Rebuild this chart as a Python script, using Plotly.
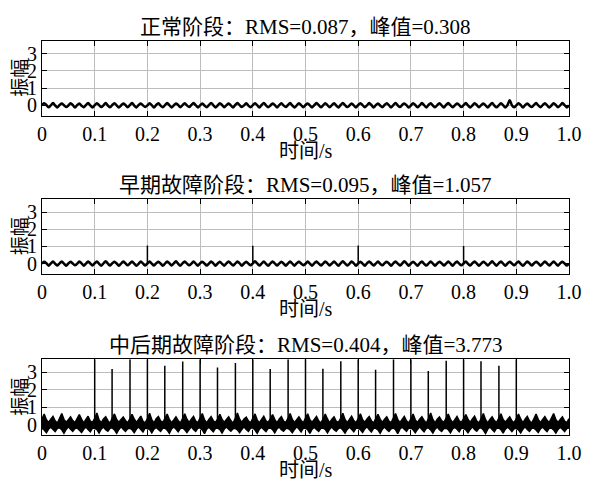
import numpy as np
import plotly.graph_objects as go

# samples per second of the waveform arrays below (t = k / sample_rate)
sample_rate = 240

# 正常阶段
normal_signal = [
    0.01, 0.12, 0.02, -0.11, 0.00, 0.13, -0.01, -0.12, 0.02, 0.11, 0.01, -0.10, -0.01, 0.12, 0.02, -0.12,
    0.01, 0.11, -0.02, -0.11, 0.02, 0.13, 0.00, -0.12, 0.01, 0.12, 0.01, -0.10, 0.00, 0.13, -0.01, -0.11,
    0.02, 0.12, 0.00, -0.12, -0.01, 0.11, 0.02, -0.11, 0.01, 0.14, -0.01, -0.12, 0.02, 0.11, 0.00, -0.10,
    0.00, 0.12, 0.01, -0.12, 0.02, 0.12, -0.02, -0.11, 0.01, 0.13, 0.01, -0.12, -0.01, 0.11, 0.02, -0.11,
    0.01, 0.12, 0.00, -0.10, 0.02, 0.13, 0.01, -0.12, 0.00, 0.11, -0.01, -0.11, 0.02, 0.14, 0.01, -0.12,
    -0.01, 0.12, 0.02, -0.11, 0.01, 0.11, 0.00, -0.12, 0.02, 0.13, 0.01, -0.10, 0.00, 0.12, -0.02, -0.11,
    0.01, 0.12, 0.01, -0.12, 0.02, 0.14, 0.00, -0.11, -0.01, 0.11, 0.02, -0.12, 0.01, 0.12, 0.00, -0.10,
    0.02, 0.13, -0.01, -0.12, 0.00, 0.12, 0.01, -0.11, 0.02, 0.11, 0.00, -0.12, 0.01, 0.13, 0.02, -0.11,
    0.00, 0.12, 0.01, -0.11, 0.01, 0.12, -0.01, -0.12, 0.02, 0.14, 0.01, -0.10, -0.01, 0.11, 0.00, -0.12,
    0.02, 0.12, 0.01, -0.11, 0.00, 0.13, 0.02, -0.12, 0.01, 0.11, -0.01, -0.11, 0.02, 0.12, 0.01, -0.12,
    0.01, 0.14, 0.00, -0.10, 0.02, 0.11, 0.01, -0.12, -0.01, 0.12, 0.02, -0.11, 0.00, 0.13, 0.01, -0.12,
    0.02, 0.12, -0.01, -0.11, 0.01, 0.12, 0.00, -0.12, 0.02, 0.13, 0.01, -0.11, 0.00, 0.11, 0.02, -0.10,
    0.01, 0.13, 0.00, -0.12, -0.01, 0.12, 0.02, -0.11, 0.01, 0.11, 0.00, -0.12, 0.02, 0.14, -0.01, -0.11,
    0.00, 0.12, 0.01, -0.12, 0.02, 0.29, 0.01, -0.11, 0.00, 0.12, 0.02, -0.12, 0.01, 0.11, -0.01, -0.10,
    0.02, 0.13, 0.00, -0.11, 0.01, 0.12, 0.01, -0.12, -0.01, 0.12, 0.02, -0.11, 0.00, 0.13, 0.01, -0.12,
    0.01,
]

# 早期故障阶段
early_signal = [
    0.00, 0.11, 0.02, -0.12, 0.01, 0.12, -0.01, -0.11, 0.02, 0.13, 0.00, -0.12, 0.01, 0.11, 0.01, -0.10,
    -0.01, 0.12, 0.02, -0.12, 0.00, 0.13, 0.01, -0.11, 0.02, 0.12, -0.01, -0.12, 0.01, 0.14, 0.00, -0.11,
    0.02, 0.11, 0.01, -0.12, 0.00, 0.12, 0.02, -0.10, 0.01, 0.13, 0.00, -0.12, -0.01, 0.12, 0.01, -0.11,
    0.01, 0.13, 0.00, -0.11, 0.02, 0.11, 0.01, -0.12, 0.00, 0.12, 0.02, -0.11, 0.01, 0.14, -0.01, -0.12,
    0.02, 0.12, 0.01, -0.10, -0.01, 0.12, 0.00, -0.12, 0.02, 0.11, 0.01, -0.11, 0.00, 0.13, 0.02, -0.12,
    0.01, 0.11, -0.01, -0.12, 0.02, 0.13, 0.01, -0.11, 0.00, 0.12, 0.02, -0.12, 0.01, 0.11, 0.00, -0.10,
    0.02, 0.14, 0.01, -0.11, 0.00, 0.12, -0.01, -0.12, 0.01, 0.13, 0.02, -0.11, 0.00, 0.11, 0.01, -0.12,
    0.01, 0.12, 0.00, -0.12, 0.02, 0.11, 0.01, -0.10, -0.01, 0.13, 0.00, -0.12, 0.02, 0.12, 0.01, -0.11,
    0.00, 0.13, 0.02, -0.11, 0.01, 0.12, 0.00, -0.12, 0.02, 0.14, 0.01, -0.11, -0.01, 0.12, 0.02, -0.12,
    0.01, 0.11, 0.00, -0.12, 0.02, 0.13, 0.01, -0.11, 0.00, 0.12, -0.01, -0.10, 0.02, 0.11, 0.01, -0.12,
    0.02, 0.12, 0.01, -0.11, 0.00, 0.14, 0.02, -0.12, 0.01, 0.11, 0.00, -0.12, 0.02, 0.13, -0.01, -0.11,
    0.00, 0.12, 0.01, -0.12, 0.01, 0.11, 0.02, -0.11, 0.00, 0.13, 0.01, -0.12, 0.02, 0.12, 0.00, -0.10,
    0.01, 0.13, -0.01, -0.11, 0.02, 0.12, 0.01, -0.12, 0.00, 0.11, 0.02, -0.11, 0.01, 0.14, 0.00, -0.12,
    0.02, 0.12, 0.00, -0.12, 0.01, 0.11, 0.01, -0.10, 0.02, 0.13, -0.01, -0.12, 0.00, 0.12, 0.02, -0.11,
    0.01, 0.11, 0.02, -0.12, 0.00, 0.13, 0.01, -0.11, 0.01, 0.12, 0.00, -0.12, 0.02, 0.11, 0.01, -0.11,
    0.00,
]
early_spike_t = [0.2, 0.4, 0.6, 0.8]
early_spike_h = [1.05, 1.04, 1.057, 1.03]

# 中后期故障阶段: upper / lower edge of the dense vibration band
late_upper = [
    0.33, 0.60, 0.28, 0.12, 0.31, 0.47, 0.21, 0.09, 0.36, 0.64, 0.30, 0.13, 0.28, 0.44, 0.23, 0.11,
    0.34, 0.58, 0.31, 0.10, 0.30, 0.48, 0.20, 0.12, 0.35, 0.66, 0.27, 0.11, 0.32, 0.45, 0.22, 0.08,
    0.37, 0.61, 0.29, 0.14, 0.29, 0.43, 0.24, 0.10, 0.33, 0.59, 0.32, 0.12, 0.30, 0.49, 0.19, 0.10,
    0.35, 0.65, 0.28, 0.09, 0.33, 0.46, 0.21, 0.13, 0.36, 0.60, 0.29, 0.11, 0.27, 0.44, 0.24, 0.09,
    0.34, 0.62, 0.31, 0.12, 0.31, 0.47, 0.20, 0.11, 0.38, 0.63, 0.28, 0.10, 0.30, 0.46, 0.22, 0.12,
    0.33, 0.59, 0.30, 0.13, 0.29, 0.45, 0.23, 0.08, 0.35, 0.67, 0.31, 0.12, 0.32, 0.43, 0.21, 0.10,
    0.36, 0.61, 0.27, 0.11, 0.30, 0.48, 0.22, 0.12, 0.34, 0.58, 0.30, 0.09, 0.31, 0.46, 0.20, 0.11,
    0.35, 0.64, 0.29, 0.12, 0.28, 0.44, 0.24, 0.10, 0.37, 0.62, 0.28, 0.13, 0.30, 0.47, 0.21, 0.09,
    0.33, 0.60, 0.32, 0.10, 0.31, 0.45, 0.19, 0.12, 0.36, 0.65, 0.29, 0.11, 0.29, 0.48, 0.23, 0.10,
    0.34, 0.62, 0.28, 0.13, 0.32, 0.46, 0.22, 0.09, 0.35, 0.59, 0.31, 0.12, 0.30, 0.44, 0.20, 0.11,
    0.37, 0.63, 0.30, 0.11, 0.29, 0.47, 0.21, 0.10, 0.33, 0.61, 0.27, 0.12, 0.31, 0.45, 0.24, 0.09,
    0.35, 0.66, 0.29, 0.10, 0.30, 0.43, 0.22, 0.13, 0.36, 0.60, 0.30, 0.11, 0.28, 0.46, 0.21, 0.12,
    0.34, 0.58, 0.31, 0.12, 0.32, 0.48, 0.20, 0.10, 0.35, 0.64, 0.28, 0.09, 0.30, 0.45, 0.23, 0.11,
    0.36, 0.62, 0.29, 0.13, 0.29, 0.44, 0.21, 0.11, 0.34, 0.61, 0.32, 0.10, 0.31, 0.47, 0.22, 0.08,
    0.33, 0.60, 0.30, 0.11, 0.30, 0.46, 0.24, 0.12, 0.37, 0.63, 0.29, 0.12, 0.29, 0.44, 0.20, 0.10,
    0.34,
]
late_lower = [
    -0.21, -0.31, -0.47, -0.26, -0.15, -0.29, -0.41, -0.22, -0.19, -0.30, -0.50, -0.28, -0.13, -0.27, -0.39, -0.23,
    -0.20, -0.32, -0.46, -0.27, -0.14, -0.28, -0.42, -0.21, -0.22, -0.29, -0.49, -0.25, -0.15, -0.30, -0.38, -0.22,
    -0.19, -0.31, -0.51, -0.28, -0.13, -0.27, -0.40, -0.24, -0.21, -0.30, -0.47, -0.26, -0.14, -0.29, -0.43, -0.20,
    -0.22, -0.28, -0.48, -0.27, -0.16, -0.28, -0.39, -0.22, -0.20, -0.32, -0.50, -0.25, -0.14, -0.26, -0.41, -0.23,
    -0.20, -0.30, -0.46, -0.29, -0.13, -0.29, -0.40, -0.21, -0.19, -0.31, -0.52, -0.27, -0.15, -0.28, -0.42, -0.22,
    -0.21, -0.29, -0.49, -0.26, -0.14, -0.27, -0.38, -0.24, -0.22, -0.30, -0.47, -0.28, -0.13, -0.29, -0.40, -0.21,
    -0.19, -0.32, -0.50, -0.27, -0.15, -0.28, -0.41, -0.22, -0.20, -0.29, -0.48, -0.25, -0.14, -0.30, -0.39, -0.23,
    -0.22, -0.31, -0.47, -0.28, -0.13, -0.26, -0.42, -0.20, -0.21, -0.30, -0.51, -0.26, -0.16, -0.28, -0.40, -0.22,
    -0.20, -0.28, -0.48, -0.27, -0.14, -0.29, -0.38, -0.23, -0.19, -0.32, -0.49, -0.28, -0.15, -0.27, -0.41, -0.21,
    -0.21, -0.30, -0.46, -0.25, -0.13, -0.28, -0.43, -0.22, -0.22, -0.31, -0.50, -0.27, -0.14, -0.29, -0.40, -0.24,
    -0.20, -0.29, -0.52, -0.26, -0.15, -0.27, -0.39, -0.21, -0.20, -0.30, -0.47, -0.28, -0.13, -0.28, -0.42, -0.22,
    -0.19, -0.31, -0.49, -0.27, -0.14, -0.30, -0.40, -0.23, -0.21, -0.29, -0.48, -0.25, -0.16, -0.27, -0.41, -0.20,
    -0.22, -0.30, -0.47, -0.28, -0.13, -0.28, -0.38, -0.22, -0.19, -0.32, -0.51, -0.26, -0.14, -0.29, -0.42, -0.21,
    -0.20, -0.29, -0.50, -0.27, -0.15, -0.26, -0.40, -0.24, -0.22, -0.30, -0.48, -0.27, -0.13, -0.28, -0.39, -0.22,
    -0.21, -0.31, -0.46, -0.25, -0.14, -0.29, -0.41, -0.21, -0.20, -0.31, -0.49, -0.28, -0.15, -0.27, -0.40, -0.23,
    -0.20,
]
late_spike_t = [0.1, 0.133, 0.167, 0.2, 0.233, 0.267, 0.3, 0.333, 0.367, 0.4, 0.433, 0.467, 0.5,
                0.533, 0.567, 0.6, 0.633, 0.667, 0.7, 0.733, 0.767, 0.8, 0.833, 0.867, 0.9]
late_spike_h = [3.77, 3.20, 3.77, 3.77, 3.39, 3.63, 3.77, 3.29, 3.55, 3.77, 3.20, 3.77, 3.77,
                3.22, 3.65, 3.77, 3.16, 3.77, 3.77, 3.08, 3.68, 3.77, 3.65, 3.39, 3.77]

titles = ["正常阶段：RMS=0.087，峰值=0.308",
          "早期故障阶段：RMS=0.095，峰值=1.057",
          "中后期故障阶段：RMS=0.404，峰值=3.773"]
x_tick_vals = [0, 0.1, 0.2, 0.3, 0.4, 0.5, 0.6, 0.7, 0.8, 0.9, 1.0]
x_tick_text = ["0", "0.1", "0.2", "0.3", "0.4", "0.5", "0.6", "0.7", "0.8", "0.9", "1.0"]
y_tick_vals = [0, 1, 2, 3]

# the page keeps an 8px body margin, so the figure is 8px smaller on each
# axis and window positions are given 8px up/left
OFF = 8
W, H = 600 - OFF, 492 - OFF
FONT = "'Liberation Serif', 'Times New Roman', 'Noto Sans CJK SC', serif"

# panel frames in window pixels (top, bottom)
panels = [(40.7, 116.0), (199.0, 274.3), (359.3, 435.3)]
left_px, right_px = 42, 569


def px_x(px):
    return (px - OFF) / W


def px_y(px):
    return 1 - (px - OFF) / H


def sample_times(values):
    return np.arange(len(values)) / sample_rate


def spike_xy(ts, hs):
    xs, ys = [], []
    for t, h in zip(ts, hs):
        xs += [t, t, None]
        ys += [0, h, None]
    return xs, ys


fig = go.Figure()

# panel 1
fig.add_trace(go.Scatter(x=sample_times(normal_signal), y=normal_signal, mode="lines",
                         line=dict(color="black", width=2.5, shape="spline"),
                         xaxis="x", yaxis="y"))

# panel 2
fig.add_trace(go.Scatter(x=sample_times(early_signal), y=early_signal, mode="lines",
                         line=dict(color="black", width=2.5, shape="spline"),
                         xaxis="x2", yaxis="y2"))
sx, sy = spike_xy(early_spike_t, early_spike_h)
fig.add_trace(go.Scatter(x=sx, y=sy, mode="lines", line=dict(color="black", width=1.5),
                         xaxis="x2", yaxis="y2"))

# panel 3
fig.add_trace(go.Scatter(x=sample_times(late_lower), y=late_lower, mode="lines",
                         line=dict(color="black", width=1.5),
                         xaxis="x3", yaxis="y3"))
fig.add_trace(go.Scatter(x=sample_times(late_upper), y=late_upper, mode="lines",
                         line=dict(color="black", width=1.5), fill="tonexty", fillcolor="black",
                         xaxis="x3", yaxis="y3"))
sx, sy = spike_xy(late_spike_t, late_spike_h)
fig.add_trace(go.Scatter(x=sx, y=sy, mode="lines", line=dict(color="black", width=1.5),
                         xaxis="x3", yaxis="y3"))

axis_common = dict(showline=True, linecolor="black", linewidth=1, mirror="ticks",
                   ticks="inside", ticklen=5, tickcolor="black", tickwidth=1,
                   showgrid=True, gridcolor="#bdbdbd", gridwidth=1, zeroline=False,
                   automargin=False,
                   tickfont=dict(family=FONT, size=20, color="black"))

layout = dict(width=W, height=H, margin=dict(l=0, r=0, t=0, b=0),
              paper_bgcolor="white", plot_bgcolor="white", showlegend=False,
              template="none",
              font=dict(family=FONT, size=20, color="black"))

mid_x = px_x((left_px + right_px) / 2)
annotations = []
for i, (top, bottom) in enumerate(panels):
    n = "" if i == 0 else str(i + 1)
    layout["xaxis" + n] = dict(axis_common, domain=[px_x(left_px), px_x(right_px)],
                               anchor="y" + n, range=[0, 1],
                               tickvals=x_tick_vals, ticktext=x_tick_text)
    layout["yaxis" + n] = dict(axis_common, domain=[px_y(bottom), px_y(top)],
                               anchor="x" + n, range=[-0.62, 3.76],
                               tickvals=y_tick_vals)
    annotations.append(dict(text=titles[i], x=mid_x, y=px_y(top - 14),
                            xref="paper", yref="paper", showarrow=False,
                            xanchor="center", yanchor="middle",
                            font=dict(family=FONT, size=21, color="black")))
    annotations.append(dict(text="时间/s", x=mid_x, y=px_y(bottom + 35),
                            xref="paper", yref="paper", showarrow=False,
                            xanchor="center", yanchor="middle",
                            font=dict(family=FONT, size=20, color="black")))
    annotations.append(dict(text="振幅", x=0, y=px_y((top + bottom) / 2),
                            xref="paper", yref="paper", showarrow=False, textangle=-90,
                            xanchor="left", yanchor="middle",
                            font=dict(family=FONT, size=19, color="black")))

layout["annotations"] = annotations
fig.update_layout(**layout)

fig.write_html("out.html")
